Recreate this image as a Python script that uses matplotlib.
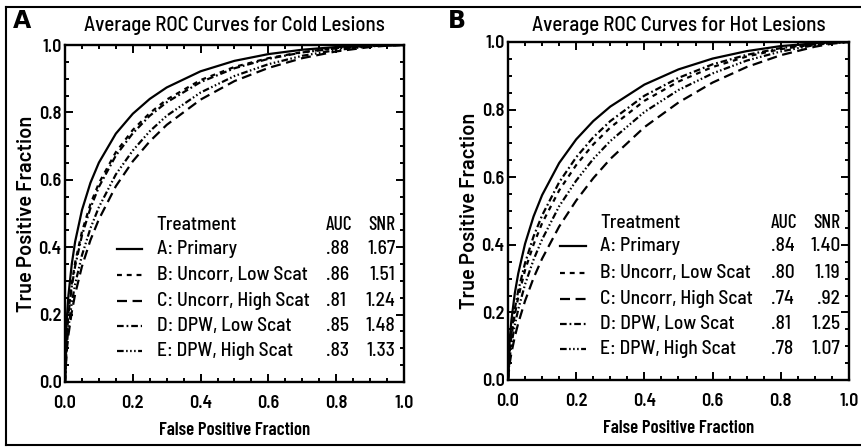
import matplotlib
matplotlib.use("Agg")
from matplotlib import pyplot as plt
from matplotlib.lines import Line2D
from matplotlib.ticker import MultipleLocator

COND = ['Barlow Condensed', 'DejaVu Sans']
SEMI = ['Barlow Semi Condensed', 'DejaVu Sans']
plt.rcParams['font.family'] = SEMI

# false positive fraction grid the curves were read at
fpf = [0, 0.005, 0.01, 0.02, 0.03, 0.05, 0.075, 0.1, 0.15, 0.2, 0.25,
       0.3, 0.4, 0.5, 0.6, 0.7, 0.8, 0.9, 0.95, 1.0]

# panel A: cold lesions (true positive fraction)
cold_primary = [0, 0.183, 0.256, 0.350, 0.417, 0.510, 0.591, 0.651, 0.737, 0.796, 0.840,
                0.874, 0.922, 0.953, 0.973, 0.986, 0.994, 0.998, 0.999, 1.0]
cold_uncorr_low = [0, 0.143, 0.207, 0.293, 0.355, 0.446, 0.528, 0.590, 0.682, 0.748, 0.798,
                   0.838, 0.896, 0.935, 0.961, 0.979, 0.991, 0.997, 0.999, 1.0]
cold_uncorr_high = [0, 0.091, 0.139, 0.208, 0.261, 0.343, 0.421, 0.483, 0.581, 0.655, 0.714,
                    0.763, 0.838, 0.893, 0.932, 0.961, 0.981, 0.994, 0.998, 1.0]
cold_dpw_low = [0, 0.137, 0.199, 0.283, 0.344, 0.435, 0.516, 0.579, 0.672, 0.738, 0.790,
                0.830, 0.890, 0.931, 0.959, 0.978, 0.990, 0.997, 0.999, 1.0]
cold_dpw_high = [0, 0.106, 0.160, 0.235, 0.291, 0.376, 0.456, 0.519, 0.616, 0.687, 0.744,
                 0.790, 0.859, 0.908, 0.943, 0.968, 0.985, 0.996, 0.999, 1.0]

# panel B: hot lesions
hot_primary = [0, 0.120, 0.177, 0.257, 0.315, 0.403, 0.484, 0.547, 0.642, 0.712, 0.766,
               0.809, 0.874, 0.919, 0.951, 0.973, 0.988, 0.996, 0.999, 1.0]
hot_uncorr_low = [0, 0.083, 0.128, 0.194, 0.245, 0.325, 0.401, 0.464, 0.561, 0.636, 0.697,
                  0.747, 0.826, 0.883, 0.926, 0.957, 0.979, 0.993, 0.998, 1.0]
hot_uncorr_high = [0, 0.049, 0.080, 0.128, 0.168, 0.234, 0.302, 0.359, 0.454, 0.531, 0.597,
                   0.654, 0.748, 0.821, 0.880, 0.926, 0.961, 0.986, 0.995, 1.0]
hot_dpw_low = [0, 0.092, 0.141, 0.211, 0.264, 0.346, 0.425, 0.487, 0.585, 0.659, 0.718,
               0.766, 0.841, 0.894, 0.934, 0.962, 0.982, 0.994, 0.998, 1.0]
hot_dpw_high = [0, 0.066, 0.105, 0.163, 0.209, 0.283, 0.356, 0.416, 0.514, 0.590, 0.654,
                0.707, 0.793, 0.858, 0.907, 0.945, 0.972, 0.991, 0.997, 1.0]

treatments = ["A: Primary", "B: Uncorr, Low Scat", "C: Uncorr, High Scat",
              "D: DPW, Low Scat", "E: DPW, High Scat"]
cold_auc = [".88", ".86", ".81", ".85", ".83"]
cold_snr = ["1.67", "1.51", "1.24", "1.48", "1.33"]
hot_auc = [".84", ".80", ".74", ".81", ".78"]
hot_snr = ["1.40", "1.19", ".92", "1.25", "1.07"]

styles = [
    dict(linestyle='-'),
    dict(linestyle=(0, (2.2, 2.2))),
    dict(linestyle=(0, (4.5, 2.5))),
    dict(linestyle=(0, (3, 1.3, 0.8, 1.3))),
    dict(linestyle=(0, (3, 1.1, 0.7, 1.1, 0.7, 1.1, 0.7, 1.1))),
]

W, H = 862, 447
fig = plt.figure(figsize=(W / 100, H / 100), dpi=100)


def px_axes(l, t, r, b):
    return fig.add_axes([l / W, 1 - b / H, (r - l) / W, (b - t) / H])


def panel(ax, letter, letter_x, title, curves, aucs, snrs, ylab_x):
    for tpf, st in zip(curves, styles):
        ax.plot(fpf, tpf, color='black', lw=1.6, **st)
    ax.set_xlim(0, 1)
    ax.set_ylim(0, 1)
    ax.xaxis.set_major_locator(MultipleLocator(0.2))
    ax.yaxis.set_major_locator(MultipleLocator(0.2))
    ax.xaxis.set_minor_locator(MultipleLocator(0.05))
    ax.yaxis.set_minor_locator(MultipleLocator(0.05))
    ax.tick_params(which='both', direction='in', top=True, right=True, width=1.4)
    ax.tick_params(which='major', length=6, labelsize=13)
    ax.tick_params(axis='x', which='major', pad=9)
    ax.tick_params(axis='y', which='major', pad=2.5)
    ax.tick_params(which='minor', length=3)
    ax.xaxis.set_major_formatter(lambda v, p: "%.1f" % v)
    ax.yaxis.set_major_formatter(lambda v, p: "%.1f" % v)
    for lab in ax.get_xticklabels() + ax.get_yticklabels():
        lab.set_fontweight(600)
    for s in ax.spines.values():
        s.set_linewidth(1.7)

    bb = ax.get_position()
    fig.text(bb.x0 + bb.width / 2, 1 - 31 / H, title, ha='center', va='baseline',
             fontsize=15, fontweight=500)
    fig.text(letter_x / W, 1 - 28 / H, letter, ha='left', va='baseline',
             fontsize=17, fontweight='heavy', family=['DejaVu Sans'])

    ax.set_xlabel("False Positive Fraction", fontsize=13.5, fontweight=600, family=COND)
    ax.xaxis.set_label_coords(0.5, -0.118)
    ax.set_ylabel("True Positive Fraction", fontsize=14.5, fontweight=600,
                  family=['Barlow', 'DejaVu Sans'], va='center')
    ax.yaxis.set_label_coords(ylab_x, 0.5)

    # hand-made legend table
    fs = 14
    ax.text(0.27, 0.465, "Treatment", transform=ax.transAxes, fontsize=fs, va='center', fontweight=500)
    ax.text(0.77, 0.465, "AUC", transform=ax.transAxes, fontsize=fs, va='center', fontweight=500,
            family=COND)
    ax.text(0.975, 0.465, "SNR", transform=ax.transAxes, fontsize=fs, va='center', ha='right',
            fontweight=500, family=COND)
    rows = [0.395, 0.317, 0.24, 0.165, 0.091]
    for y, name, a, s, st in zip(rows, treatments, aucs, snrs, styles):
        ax.add_line(Line2D([0.153, 0.228], [y, y], transform=ax.transAxes,
                           color='black', lw=1.6, **st))
        ax.text(0.27, y, name, transform=ax.transAxes, fontsize=fs, va='center', fontweight=500)
        ax.text(0.77, y, a, transform=ax.transAxes, fontsize=fs, va='center', fontweight=500)
        ax.text(0.975, y, s, transform=ax.transAxes, fontsize=fs, va='center', ha='right',
                fontweight=500)


ax_a = px_axes(65, 45, 404, 382)
panel(ax_a, "A", 13, "Average ROC Curves for Cold Lesions",
      [cold_primary, cold_uncorr_low, cold_uncorr_high, cold_dpw_low, cold_dpw_high],
      cold_auc, cold_snr, -0.115)

ax_b = px_axes(508, 42, 849, 380)
panel(ax_b, "B", 448, "Average ROC Curves for Hot Lesions",
      [hot_primary, hot_uncorr_low, hot_uncorr_high, hot_dpw_low, hot_dpw_high],
      hot_auc, hot_snr, -0.112)

# scanned page frame
fig.add_artist(Line2D([6.5 / W, 1], [1 - 6.5 / H] * 2, color='black', lw=1.5))
fig.add_artist(Line2D([6.5 / W] * 2, [1 - 444.5 / H, 1 - 6.5 / H], color='black', lw=1.5))
fig.add_artist(Line2D([6.5 / W, 1], [1 - 444.5 / H] * 2, color='black', lw=1.5))

fig.savefig("out.png", dpi=100)
